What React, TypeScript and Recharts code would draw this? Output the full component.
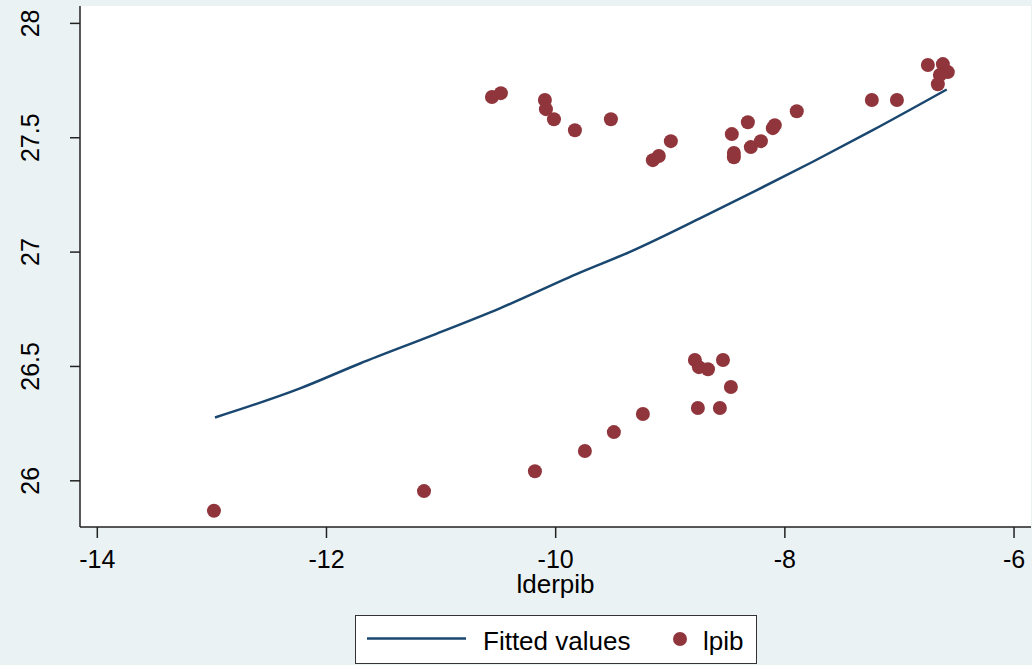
import React from 'react';
import { ComposedChart, Scatter, Line, XAxis, YAxis, CartesianGrid } from 'recharts';

// lderpib / lpib observations
const lderpib = [
  -12.982, -11.149, -10.181, -9.745, -9.492, -9.239, -8.759, -8.567, -8.471, -8.785, -8.75, -8.671, -8.54,
  -10.556, -10.478, -10.094, -10.085, -10.015, -9.832, -9.518, -9.152, -9.1, -8.995, -8.463, -8.445, -8.445,
  -8.323, -8.297, -8.209, -8.105, -8.088, -7.896, -7.241, -7.022, -6.752, -6.621, -6.647, -6.578, -6.665,
];
const lpib = [
  25.869, 25.955, 26.042, 26.13, 26.213, 26.292, 26.318, 26.318, 26.41, 26.528, 26.497, 26.488, 26.528,
  27.678, 27.695, 27.665, 27.625, 27.581, 27.533, 27.581, 27.402, 27.42, 27.485, 27.516, 27.415, 27.433,
  27.568, 27.459, 27.485, 27.542, 27.555, 27.616, 27.665, 27.665, 27.818, 27.822, 27.774, 27.787, 27.734,
];

// fitted values
const fitX = [-12.973, -12.231, -11.708, -11.071, -10.487, -9.789, -9.352, -8.715, -8.244, -7.756, -7.233, -6.587];
const fitY = [26.277, 26.404, 26.513, 26.637, 26.754, 26.91, 27.001, 27.154, 27.271, 27.395, 27.533, 27.711];

const xTicks = [-14, -12, -10, -8, -6];
const yTicks = [26, 26.5, 27, 27.5, 28];

const BG = '#EAF2F3';
const NAVY = '#1A476F';
const MAROON = '#90353B';
const FONT = '"Liberation Sans", Arial, sans-serif';

const points = lderpib.map((x, i) => ({ x, y: lpib[i] }));
const fitted = fitX.map((x, i) => ({ x, y: fitY[i] }));

const YTick = (props: any) => {
  const { y, payload } = props;
  return (
    <text
      transform={`translate(30, ${y}) rotate(-90)`}
      textAnchor="middle"
      dominantBaseline="central"
      fontSize={25}
      fontFamily={FONT}
      fill="#000"
    >
      {payload.value}
    </text>
  );
};

const XTick = (props: any) => {
  const { x, payload } = props;
  return (
    <text x={x} y={568} textAnchor="middle" fontSize={25} fontFamily={FONT} fill="#000">
      {payload.value}
    </text>
  );
};

export default function App() {
  return (
    <div style={{ position: 'fixed', left: 0, top: 0, width: 1032, height: 665, background: BG }}>
      <ComposedChart
        width={1032}
        height={665}
        margin={{ top: 6, right: 1, bottom: 0, left: 0 }}
        style={{ background: BG }}
      >
        <rect x={80} y={6} width={951} height={521} fill="#fff" />
        <CartesianGrid vertical={false} stroke={BG} strokeWidth={2} fill="#fff" />
        <XAxis
          type="number"
          dataKey="x"
          domain={[-14.151, -5.852]}
          ticks={xTicks}
          allowDataOverflow
          height={138}
          tick={<XTick />}
          tickSize={11}
          axisLine={{ stroke: '#222', strokeWidth: 1.5 }}
          tickLine={{ stroke: '#222', strokeWidth: 1.5 }}
          label={{
            value: 'lderpib',
            position: 'insideTop',
            offset: 48,
            fontSize: 26,
            fontFamily: FONT,
            fill: '#000',
          }}
        />
        <YAxis
          type="number"
          dataKey="y"
          domain={[25.798, 28.076]}
          ticks={yTicks}
          allowDataOverflow
          width={80}
          tick={<YTick />}
          tickSize={10}
          axisLine={{ stroke: '#222', strokeWidth: 1.5 }}
          tickLine={{ stroke: '#222', strokeWidth: 1.5 }}
        />
        <Line
          data={fitted}
          dataKey="y"
          type="monotone"
          stroke={NAVY}
          strokeWidth={2.5}
          dot={false}
          activeDot={false}
          isAnimationActive={false}
        />
        <Scatter
          data={points}
          dataKey="y"
          fill={MAROON}
          shape={(p: any) => <circle cx={p.cx} cy={p.cy} r={7} fill={MAROON} />}
          isAnimationActive={false}
        />
      </ComposedChart>

      {/* legend */}
      <svg
        width={402}
        height={49}
        style={{ position: 'absolute', left: 355, top: 615 }}
      >
        <rect x={0.5} y={0.5} width={401} height={48} fill="#fff" stroke="#333" strokeWidth={1} />
        <line x1={12} y1={23.5} x2={111} y2={23.5} stroke={NAVY} strokeWidth={2.5} />
        <text x={128} y={35} fontSize={26} fontFamily={FONT} fill="#000">
          Fitted values
        </text>
        <circle cx={325} cy={24} r={7} fill={MAROON} />
        <text x={348} y={35} fontSize={26} fontFamily={FONT} fill="#000">
          lpib
        </text>
      </svg>
    </div>
  );
}
